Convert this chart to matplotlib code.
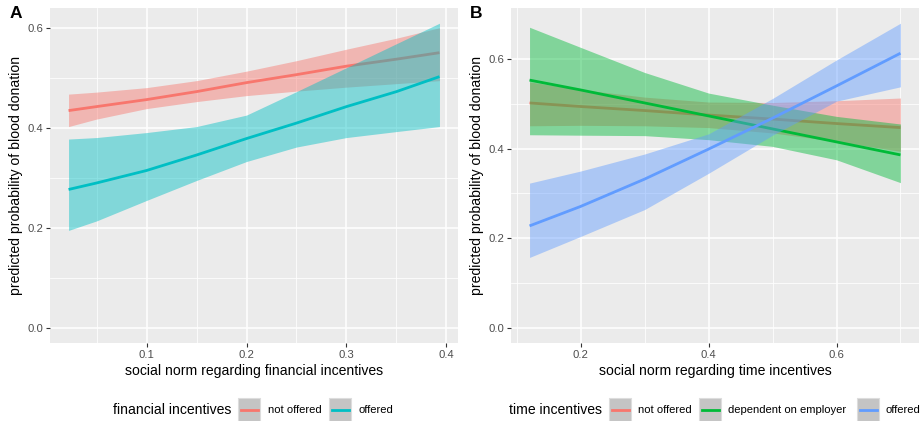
import matplotlib
matplotlib.use('Agg')
import matplotlib.pyplot as plt
from matplotlib.patches import Rectangle
from matplotlib.lines import Line2D
import numpy as np

plt.rcParams['font.family'] = ['Liberation Sans', 'DejaVu Sans']

# ---------------- Panel A data: financial incentives ----------------
fin_x = [0.022, 0.05, 0.10, 0.15, 0.20, 0.25, 0.30, 0.35, 0.393]
fin_not_fit = [0.435, 0.443, 0.457, 0.473, 0.491, 0.507, 0.524, 0.538, 0.551]
fin_not_hi = [0.468, 0.472, 0.481, 0.495, 0.514, 0.535, 0.558, 0.580, 0.601]
fin_not_lo = [0.403, 0.418, 0.439, 0.453, 0.465, 0.474, 0.482, 0.489, 0.495]
fin_off_fit = [0.277, 0.290, 0.315, 0.346, 0.379, 0.410, 0.443, 0.473, 0.503]
fin_off_hi = [0.378, 0.381, 0.391, 0.403, 0.426, 0.473, 0.521, 0.569, 0.610]
fin_off_lo = [0.195, 0.214, 0.255, 0.295, 0.333, 0.362, 0.381, 0.393, 0.403]

# ---------------- Panel B data: time incentives ----------------
time_x = [0.12, 0.20, 0.30, 0.40, 0.50, 0.60, 0.70]
time_not_fit = [0.502, 0.494, 0.485, 0.475, 0.466, 0.456, 0.447]
time_not_hi = [0.549, 0.532, 0.515, 0.504, 0.503, 0.507, 0.513]
time_not_lo = [0.451, 0.452, 0.451, 0.447, 0.435, 0.416, 0.394]
time_dep_fit = [0.553, 0.531, 0.502, 0.473, 0.444, 0.415, 0.386]
time_dep_hi = [0.671, 0.626, 0.570, 0.524, 0.497, 0.472, 0.455]
time_dep_lo = [0.431, 0.430, 0.429, 0.420, 0.405, 0.375, 0.324]
time_off_fit = [0.2275, 0.271, 0.332, 0.399, 0.468, 0.540, 0.613]
time_off_hi = [0.323, 0.350, 0.388, 0.433, 0.512, 0.598, 0.680]
time_off_lo = [0.157, 0.204, 0.264, 0.345, 0.430, 0.506, 0.538]

fin_labels = ['not offered', 'offered']
time_labels = ['not offered', 'dependent on employer', 'offered']
fin_colors = ['#F8766D', '#00BFC4']
time_colors = ['#F8766D', '#00BA38', '#619CFF']

W, H = 921, 421
fig = plt.figure(figsize=(W / 100, H / 100), dpi=100)


def px_axes(x0, y0, x1, y1):
    return fig.add_axes([x0 / W, 1 - y1 / H, (x1 - x0) / W, (y1 - y0) / H])


def style_axes(ax, xmajor, xminor, xlim, ylim):
    ax.set_facecolor('#EBEBEB')
    for s in ax.spines.values():
        s.set_visible(False)
    ax.set_xlim(*xlim)
    ax.set_ylim(*ylim)
    ax.set_xticks(xmajor)
    ax.set_xticks(xminor, minor=True)
    ax.set_yticks([0.0, 0.2, 0.4, 0.6])
    ax.set_yticks([0.1, 0.3, 0.5], minor=True)
    ax.set_yticklabels(['0.0', '0.2', '0.4', '0.6'])
    ax.grid(which='major', color='white', lw=1.1)
    ax.grid(which='minor', color='white', lw=0.55)
    ax.set_axisbelow(True)
    ax.tick_params(which='major', length=3, width=0.8, color='#333333',
                   labelcolor='#4D4D4D', labelsize=8.1, pad=2)
    ax.tick_params(which='minor', length=0)
    ax.set_ylabel('predicted probability of blood donation', fontsize=10.1,
                  color='black', labelpad=3)


def expand(lo, hi, f=0.05):
    d = (hi - lo) * f
    return lo - d, hi + d


def draw_series(ax, x, fits, his, los, colors):
    for fit, hi, lo, c in zip(fits, his, los, colors):
        ax.fill_between(x, lo, hi, color=c, alpha=0.45, lw=0, zorder=2)
        ax.plot(x, fit, color=c, lw=2.0, zorder=2, solid_capstyle='butt')


# Panel A
axA = px_axes(50, 8, 458, 343)
style_axes(axA, [0.1, 0.2, 0.3, 0.4], [0.05, 0.15, 0.25, 0.35],
           expand(min(fin_x), max(fin_x)),
           expand(0.0, max(max(fin_not_hi), max(fin_off_hi))))
axA.set_xticklabels(['0.1', '0.2', '0.3', '0.4'])
draw_series(axA, fin_x, [fin_not_fit, fin_off_fit], [fin_not_hi, fin_off_hi],
            [fin_not_lo, fin_off_lo], fin_colors)
axA.set_xlabel('social norm regarding financial incentives', fontsize=10.1, labelpad=3)

# Panel B
axB = px_axes(511, 8, 919, 343)
style_axes(axB, [0.2, 0.4, 0.6], [0.1, 0.3, 0.5, 0.7],
           expand(min(time_x), max(time_x)),
           expand(0.0, max(max(time_not_hi), max(time_dep_hi), max(time_off_hi))))
axB.set_xticklabels(['0.2', '0.4', '0.6'])
draw_series(axB, time_x, [time_not_fit, time_dep_fit, time_off_fit],
            [time_not_hi, time_dep_hi, time_off_hi],
            [time_not_lo, time_dep_lo, time_off_lo], time_colors)
axB.set_xlabel('social norm regarding time incentives', fontsize=10.1, labelpad=3)

# Panel tags
fig.text(10 / W, 1 - 14 / H, 'A', fontsize=12.5, fontweight='bold', va='center', ha='left')
fig.text(470 / W, 1 - 14 / H, 'B', fontsize=12.5, fontweight='bold', va='center', ha='left')


# Legends (bottom)
def legend_row(title, title_x, items, yc=410):
    fig.text(title_x / W, 1 - yc / H, title, fontsize=10.1, va='center', ha='left')
    for (box_x, text_x, label, color) in items:
        r = Rectangle((box_x / W, 1 - (yc + 11.5) / H), 22 / W, 23 / H,
                      transform=fig.transFigure, facecolor='#C4C4C4',
                      edgecolor='#DDDDDD', lw=0.8)
        fig.patches.append(r)
        ln = Line2D([(box_x + 2.5) / W, (box_x + 19.5) / W], [1 - yc / H, 1 - yc / H],
                    transform=fig.transFigure, color=color, lw=2.0)
        fig.lines.append(ln)
        fig.text(text_x / W, 1 - yc / H, label, fontsize=8.1, va='center', ha='left')


legend_row('financial incentives', 113,
           [(238, 268, fin_labels[0], fin_colors[0]),
            (329, 358, fin_labels[1], fin_colors[1])])
legend_row('time incentives', 509,
           [(609, 638, time_labels[0], time_colors[0]),
            (699, 728, time_labels[1], time_colors[1]),
            (857, 885, time_labels[2], time_colors[2])])

fig.savefig('out.png', dpi=100)
